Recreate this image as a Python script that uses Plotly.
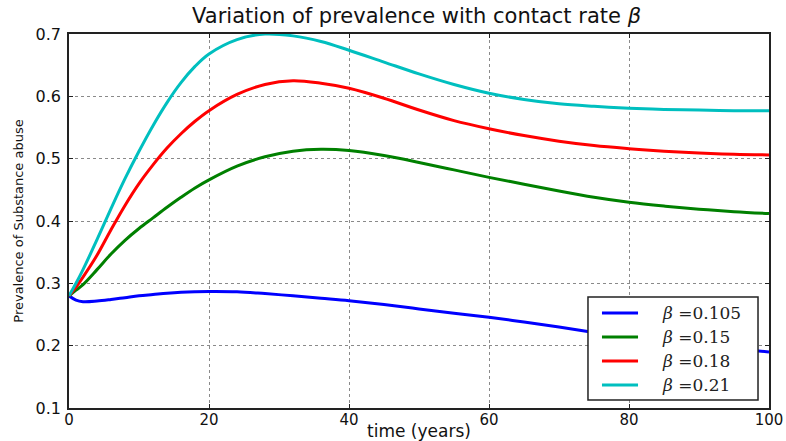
import plotly.graph_objects as go

# time (years)
t = [0, 1, 2, 4, 6, 8, 10, 12, 14, 16, 18, 20, 24, 28, 32, 36, 40, 45, 50, 55,
     60, 65, 70, 75, 80, 85, 90, 95, 100]

beta_labels = ["0.105", "0.15", "0.18", "0.21"]

prev_b0105 = [0.280, 0.273, 0.2705, 0.2715, 0.274, 0.277, 0.280, 0.282, 0.284, 0.2855,
              0.2865, 0.287, 0.2865, 0.2835, 0.280, 0.276, 0.272, 0.266, 0.259, 0.252,
              0.2455, 0.238, 0.230, 0.221, 0.213, 0.206, 0.200, 0.195, 0.190]
prev_b015 = [0.280, 0.289, 0.298, 0.322, 0.347, 0.369, 0.388, 0.405, 0.422, 0.438,
             0.453, 0.466, 0.488, 0.503, 0.512, 0.515, 0.513, 0.505, 0.494, 0.482,
             0.470, 0.459, 0.448, 0.438, 0.430, 0.424, 0.419, 0.415, 0.412]
prev_b018 = [0.280, 0.294, 0.310, 0.345, 0.386, 0.425, 0.460, 0.490, 0.517, 0.540,
             0.560, 0.577, 0.603, 0.619, 0.625, 0.621, 0.613, 0.597, 0.578, 0.561,
             0.548, 0.537, 0.528, 0.521, 0.516, 0.512, 0.509, 0.507, 0.506]
prev_b021 = [0.280, 0.300, 0.322, 0.370, 0.420, 0.468, 0.512, 0.553, 0.590, 0.622,
             0.648, 0.668, 0.691, 0.700, 0.697, 0.688, 0.674, 0.655, 0.636, 0.619,
             0.605, 0.595, 0.588, 0.584, 0.581, 0.579, 0.578, 0.577, 0.577]

series = [prev_b0105, prev_b015, prev_b018, prev_b021]
colors = ["#0000ff", "#008000", "#ff0000", "#00bfbf"]

x_ticks = [0, 20, 40, 60, 80, 100]
y_ticks = [0.1, 0.2, 0.3, 0.4, 0.5, 0.6, 0.7]

fig = go.Figure()
for ys, lab, c in zip(series, beta_labels, colors):
    fig.add_trace(go.Scatter(
        x=t, y=ys, mode="lines",
        line=dict(color=c, width=3, shape="spline", smoothing=1.0),
        name="β=" + lab, showlegend=False,
    ))

# legend drawn as a framed box in paper coordinates (matplotlib-style)
lg_x0, lg_x1, lg_y0, lg_y1 = 0.7414, 0.9843, 0.0214, 0.2968
row_y = [0.254, 0.190, 0.1257, 0.0615]
fig.add_shape(type="rect", xref="paper", yref="paper",
              x0=lg_x0, x1=lg_x1, y0=lg_y0, y1=lg_y1,
              line=dict(color="#222", width=1.5), fillcolor="white", layer="above")
for ry, lab, c in zip(row_y, beta_labels, colors):
    fig.add_shape(type="line", xref="paper", yref="paper",
                  x0=0.7614, x1=0.8129, y0=ry, y1=ry,
                  line=dict(color=c, width=3), layer="above")
    fig.add_annotation(xref="paper", yref="paper", x=0.8443, y=ry,
                       xanchor="left", yanchor="middle", showarrow=False,
                       text="<i>β</i> =" + lab,
                       font=dict(family="DejaVu Serif", size=17, color="#222"))

axis_common = dict(
    showline=True, linecolor="#222", linewidth=1.5, mirror="allticks",
    ticks="inside", ticklen=4, tickcolor="#222",
    showgrid=True, gridcolor="#8a8a8a", griddash="dot", gridwidth=1,
    zeroline=False, automargin=False,
)

fig.update_layout(
    width=786, height=441,
    margin=dict(l=69, r=17, t=34, b=33, autoexpand=False),
    paper_bgcolor="white", plot_bgcolor="white",
    title=dict(
        text="Variation of prevalence with contact rate <i>β</i>",
        x=0.53, xanchor="center", y=0.965, yanchor="middle",
        font=dict(family="DejaVu Sans", size=21, color="#111"),
    ),
    xaxis=dict(range=[0, 100], tickvals=x_ticks,
               tickfont=dict(family="DejaVu Sans", size=15, color="#111"),
               ticklabelstandoff=-3,
               title=dict(text="time (years)", standoff=0,
                          font=dict(family="DejaVu Sans", size=17, color="#111")),
               **axis_common),
    yaxis=dict(range=[0.1, 0.7], tickvals=y_ticks, tickformat=".1f",
               tickfont=dict(family="DejaVu Sans", size=16, color="#111"),
               ticklabelstandoff=3,
               title=dict(text="Prevalence of Substance abuse", standoff=9,
                          font=dict(family="DejaVu Sans", size=13, color="#111")),
               **axis_common),
    showlegend=False,
)

fig.write_html("out.html")
